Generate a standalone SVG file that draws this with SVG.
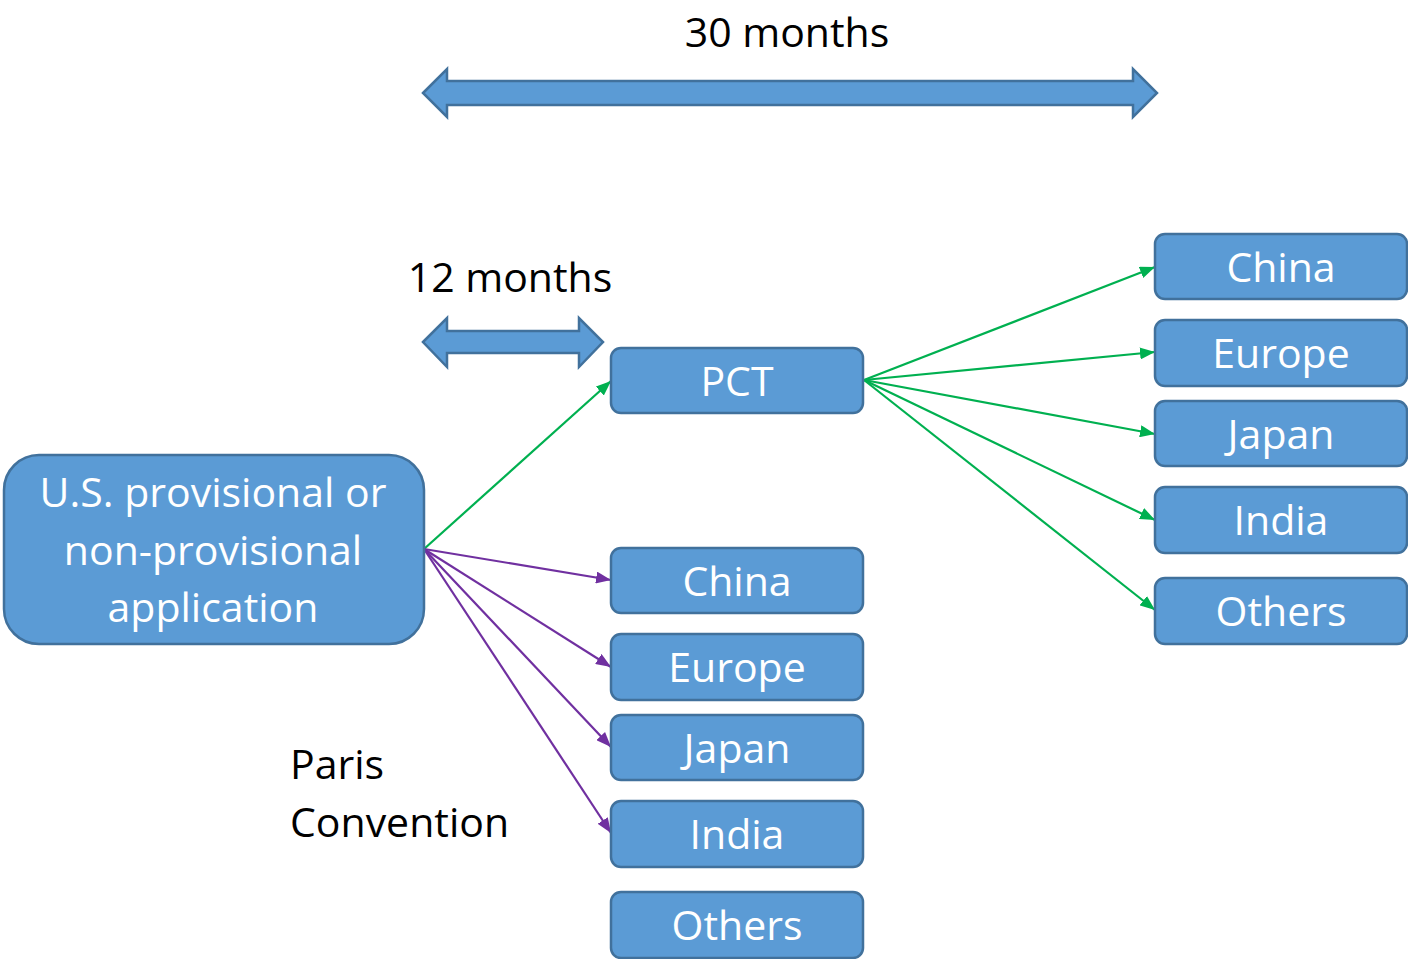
<svg xmlns="http://www.w3.org/2000/svg" width="1408" height="959" viewBox="0 0 1408 959">
<style>
.n{fill:#5B9BD5;stroke:#41719C;stroke-width:2.5}
.t{fill:#fff;font-family:"Open Sans","Liberation Sans",sans-serif;font-size:41px;text-anchor:middle}
.k{fill:#000;font-family:"Open Sans","Liberation Sans",sans-serif;font-size:41px}
.g{stroke:#00B050;stroke-width:2.2;fill:none;marker-end:url(#ag)}
.p{stroke:#7030A0;stroke-width:2.2;fill:none;marker-end:url(#ap)}
</style>
<defs>
<marker id="ag" viewBox="0 0 10 10" refX="10" refY="5" markerWidth="15" markerHeight="12" markerUnits="userSpaceOnUse" orient="auto" preserveAspectRatio="none"><path d="M0,0 L10,5 L0,10 z" fill="#00B050"/></marker>
<marker id="ap" viewBox="0 0 10 10" refX="10" refY="5" markerWidth="15" markerHeight="12" markerUnits="userSpaceOnUse" orient="auto" preserveAspectRatio="none"><path d="M0,0 L10,5 L0,10 z" fill="#7030A0"/></marker>
</defs>
<g id="arrow30">
<path class="n" d="M423,93 L447,69 L447,81 L1133,81 L1133,69 L1157,93 L1133,117 L1133,105 L447,105 L447,117 Z"/>
<text class="k" x="787" y="47" text-anchor="middle">30 months</text>
</g>
<g id="arrow12">
<path class="n" d="M423,342 L447,318 L447,331 L579,331 L579,318 L603,342 L579,367 L579,353 L447,353 L447,367 Z"/>
<text class="k" x="510" y="292" text-anchor="middle">12 months</text>
</g>
<g id="connectors">
<line class="g" x1="424" y1="549" x2="611" y2="381"/>
<line class="g" x1="864" y1="380" x2="1155" y2="267"/>
<line class="g" x1="864" y1="380" x2="1155" y2="352"/>
<line class="g" x1="864" y1="380" x2="1155" y2="434"/>
<line class="g" x1="864" y1="380" x2="1155" y2="520"/>
<line class="g" x1="864" y1="380" x2="1155" y2="610"/>
<line class="p" x1="424" y1="549" x2="611" y2="580"/>
<line class="p" x1="424" y1="549" x2="611" y2="667"/>
<line class="p" x1="424" y1="549" x2="611" y2="747"/>
<line class="p" x1="424" y1="549" x2="611" y2="833"/>
</g>
<g id="us"><rect class="n" x="4" y="455" width="420" height="189" rx="35"/>
<text class="t" x="213" y="507">U.S. provisional or</text>
<text class="t" x="213" y="565">non-provisional</text>
<text class="t" x="213" y="622">application</text></g>
<g id="pct"><rect class="n" x="611" y="348" width="252" height="65" rx="10"/><text class="t" x="737" y="396">PCT</text></g>
<g id="m-china"><rect class="n" x="611" y="548" width="252" height="65" rx="10"/><text class="t" x="737" y="596">China</text></g>
<g id="m-europe"><rect class="n" x="611" y="634" width="252" height="66" rx="10"/><text class="t" x="737" y="682">Europe</text></g>
<g id="m-japan"><rect class="n" x="611" y="715" width="252" height="65" rx="10"/><text class="t" x="737" y="763">Japan</text></g>
<g id="m-india"><rect class="n" x="611" y="801" width="252" height="66" rx="10"/><text class="t" x="737" y="849">India</text></g>
<g id="m-others"><rect class="n" x="611" y="892" width="252" height="66" rx="10"/><text class="t" x="737" y="940">Others</text></g>
<g id="r-china"><rect class="n" x="1155" y="234" width="252" height="65" rx="10"/><text class="t" x="1281" y="282">China</text></g>
<g id="r-europe"><rect class="n" x="1155" y="320" width="252" height="66" rx="10"/><text class="t" x="1281" y="368">Europe</text></g>
<g id="r-japan"><rect class="n" x="1155" y="401" width="252" height="65" rx="10"/><text class="t" x="1281" y="449">Japan</text></g>
<g id="r-india"><rect class="n" x="1155" y="487" width="252" height="66" rx="10"/><text class="t" x="1281" y="535">India</text></g>
<g id="r-others"><rect class="n" x="1155" y="578" width="252" height="66" rx="10"/><text class="t" x="1281" y="626">Others</text></g>
<g id="paris"><text class="k" x="290" y="779">Paris</text><text class="k" x="290" y="837">Convention</text></g>
</svg>
